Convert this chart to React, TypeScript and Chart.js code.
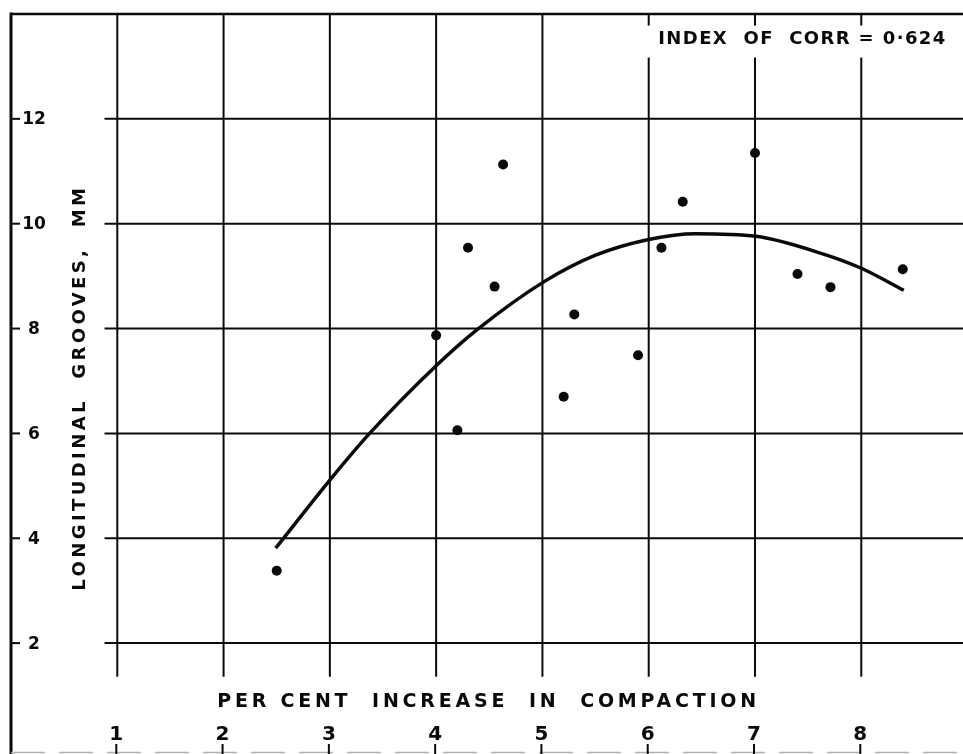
import React, { useEffect, useRef } from "react";
import { Chart, registerables } from "chart.js";

Chart.register(...registerables);

// ---- data ----
const compaction = [2.5, 4.0, 4.2, 4.3, 4.55, 4.63, 5.2, 5.3, 5.9, 6.12, 6.32, 7.0, 7.4, 7.71, 8.39];
const grooves = [3.38, 7.87, 6.06, 9.54, 8.8, 11.13, 6.7, 8.27, 7.49, 9.54, 10.42, 11.35, 9.04, 8.79, 9.13];
const curveX = [2.49, 3.0, 3.37, 4.01, 4.38, 5.02, 5.5, 6.0, 6.44, 7.01, 7.63, 8.0, 8.4];
const curveY = [3.81, 5.11, 5.99, 7.31, 7.97, 8.9, 9.4, 9.7, 9.81, 9.76, 9.43, 9.15, 8.73];
const xTicks = [1, 2, 3, 4, 5, 6, 7, 8];
const yTicks = [2, 4, 6, 8, 10, 12];
const xTitle = "PER CENT  INCREASE  IN  COMPACTION";
const yTitle = "LONGITUDINAL  GROOVES,  MM";
const note = "INDEX  OF  CORR = 0·624";

const INK = "#0a0a0a";
const FONT = "'DejaVu Sans', 'Liberation Sans', sans-serif";

function fitText(ctx: CanvasRenderingContext2D, text: string, x: number, y: number, width: number) {
  (ctx as any).letterSpacing = "0px";
  const w = ctx.measureText(text).width;
  const ls = (width - w) / (text.length - 1);
  (ctx as any).letterSpacing = ls + "px";
  ctx.textAlign = "left";
  ctx.fillText(text, x, y);
  (ctx as any).letterSpacing = "0px";
}

const paperPlugin = {
  id: "paper",
  beforeDatasetsDraw(chart: any) {
    const ctx: CanvasRenderingContext2D = chart.ctx;
    const sx = chart.scales.x;
    const sy = chart.scales.y;
    const X = (v: number) => sx.getPixelForValue(v);
    const Y = (v: number) => sy.getPixelForValue(v);
    const W = chart.width;
    const H = chart.height;
    const line = (x1: number, y1: number, x2: number, y2: number) => {
      ctx.beginPath();
      ctx.moveTo(x1, y1);
      ctx.lineTo(x2, y2);
      ctx.stroke();
    };
    ctx.save();
    ctx.strokeStyle = INK;
    ctx.fillStyle = INK;
    ctx.lineCap = "butt";

    // horizontal grid lines
    ctx.lineWidth = 2;
    yTicks.forEach((v) => line(X(0.88), Y(v), W, Y(v)));
    // vertical grid lines
    xTicks.forEach((v) => line(X(v), Y(14), X(v), Y(1.36)));

    // borders
    ctx.lineWidth = 3;
    line(X(0), Y(14) - 1.5, X(0), H);
    ctx.lineWidth = 2.5;
    line(X(0), Y(14), W, Y(14));
    ctx.strokeStyle = "#b0b0b0";
    ctx.lineWidth = 1.5;
    ctx.setLineDash([34, 14]);
    line(X(0), H - 1.5, W, H - 1.5);
    ctx.setLineDash([]);
    ctx.strokeStyle = INK;

    // y ticks + labels
    ctx.lineWidth = 2;
    ctx.font = `bold 17px ${FONT}`;
    ctx.textAlign = "center";
    ctx.textBaseline = "middle";
    yTicks.forEach((v) => {
      line(X(0), Y(v), X(0) + 9, Y(v));
      ctx.fillText(String(v), X(0) + 23, Y(v) + 1);
    });

    // x ticks + labels
    ctx.font = `bold 20px ${FONT}`;
    xTicks.forEach((v) => {
      line(X(v) - 1, H - 10, X(v) - 1, H);
      ctx.fillText(String(v), X(v) - 1, H - 19);
    });

    // x title
    ctx.font = `bold 19px ${FONT}`;
    ctx.textBaseline = "middle";
    fitText(ctx, xTitle, X(1.94), H - 52, X(7.01) - X(1.94));

    // y title (rotated)
    ctx.save();
    ctx.translate(X(0) + 69, Y(3.0));
    ctx.rotate(-Math.PI / 2);
    ctx.font = `bold 18px ${FONT}`;
    ctx.textBaseline = "middle";
    fitText(ctx, yTitle, 0, 0, Y(3.0) - Y(10.68));
    ctx.restore();

    // note box + text
    ctx.fillStyle = "#ffffff";
    ctx.fillRect(X(5.97), Y(13.78), W - X(5.97), 32);
    ctx.fillStyle = INK;
    ctx.font = `bold 18px ${FONT}`;
    ctx.textBaseline = "middle";
    fitText(ctx, note, X(6.09), Y(13.51), X(8.79) - X(6.09));

    ctx.restore();
  },
};

export default function App() {
  const ref = useRef<HTMLCanvasElement | null>(null);
  useEffect(() => {
    if (!ref.current) return;
    const points = compaction.map((x, i) => ({ x, y: grooves[i] }));
    const curve = curveX.map((x, i) => ({ x, y: curveY[i] }));
    const chart = new Chart(ref.current, {
      type: "scatter",
      data: {
        datasets: [
          {
            data: points,
            pointRadius: 5,
            pointBackgroundColor: INK,
            pointBorderWidth: 0,
            showLine: false,
          },
          {
            data: curve,
            showLine: true,
            pointRadius: 0,
            borderColor: INK,
            borderWidth: 3.5,
            cubicInterpolationMode: "monotone",
            fill: false,
          } as any,
        ],
      },
      options: {
        responsive: false,
        animation: false,
        devicePixelRatio: 1,
        layout: { padding: { left: 11, top: 14, right: 0, bottom: 0 } },
        plugins: { legend: { display: false }, tooltip: { enabled: false } },
        scales: {
          x: { type: "linear", min: 0, max: 8.91, display: false },
          y: { type: "linear", min: -0.02, max: 14, display: false },
        },
      },
      plugins: [paperPlugin],
    });
    return () => chart.destroy();
  }, []);
  return (
    <div style={{ position: "fixed", left: 0, top: 0, width: 963, height: 754, background: "#fff" }}>
      <canvas ref={ref} width={963} height={754} />
    </div>
  );
}
